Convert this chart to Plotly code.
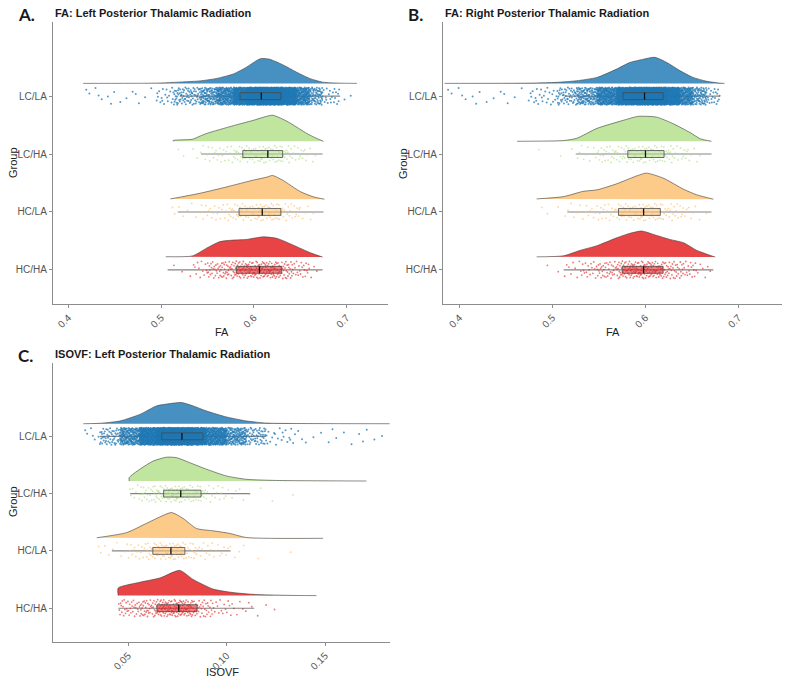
import numpy as np
import plotly.graph_objects as go

# ---------------- data ----------------
groups = ["LC/LA", "LC/HA", "HC/LA", "HC/HA"]
group_pos = [4, 3, 2, 1]
colors = ["#1F78B4", "#B2DF8A", "#FDBF6F", "#E31A1C"]
n_points = [2600, 130, 130, 250]          # approx. number of subjects per group

# Panel A: FA, left posterior thalamic radiation
A_dens_x = [
    [0.416, 0.495, 0.513, 0.542, 0.560, 0.578, 0.592, 0.603, 0.608, 0.617, 0.631, 0.646, 0.660, 0.674, 0.692, 0.711],
    [0.513, 0.513, 0.534, 0.542, 0.549, 0.578, 0.599, 0.620, 0.631, 0.639, 0.657, 0.667, 0.675],
    [0.510, 0.542, 0.571, 0.599, 0.614, 0.620, 0.631, 0.650, 0.664, 0.676],
    [0.505, 0.534, 0.549, 0.563, 0.578, 0.592, 0.610, 0.625, 0.642, 0.660, 0.674],
]
A_dens_h = [
    [0, 0.01, 0.04, 0.10, 0.20, 0.38, 0.65, 0.92, 1.0, 0.97, 0.75, 0.45, 0.20, 0.05, 0.01, 0],
    [0, 0.03, 0.08, 0.20, 0.30, 0.60, 0.80, 1.0, 0.85, 0.70, 0.30, 0.12, 0],
    [0.01, 0.25, 0.52, 0.80, 0.93, 1.0, 0.80, 0.32, 0.10, 0],
    [0.02, 0.06, 0.44, 0.76, 0.84, 0.87, 1.0, 0.92, 0.60, 0.23, 0],
]
A_peak = [0.43, 0.45, 0.41, 0.35]
A_box = [  # lower whisker, Q1, median, Q3, upper whisker
    [0.520, 0.585, 0.608, 0.629, 0.693],
    [0.543, 0.588, 0.615, 0.631, 0.674],
    [0.518, 0.584, 0.609, 0.629, 0.675],
    [0.507, 0.581, 0.606, 0.630, 0.674],
]
A_ticks = [0.4, 0.5, 0.6, 0.7]
A_ticktext = ["0.4", "0.5", "0.6", "0.7"]

# Panel B: FA, right posterior thalamic radiation
B_dens_x = [
    [0.384, 0.476, 0.505, 0.526, 0.548, 0.569, 0.583, 0.597, 0.610, 0.623, 0.637, 0.651, 0.666, 0.680, 0.685],
    [0.462, 0.512, 0.526, 0.548, 0.576, 0.592, 0.612, 0.630, 0.648, 0.659, 0.671],
    [0.483, 0.512, 0.533, 0.548, 0.569, 0.591, 0.601, 0.619, 0.641, 0.655, 0.673],
    [0.483, 0.512, 0.530, 0.548, 0.569, 0.583, 0.596, 0.612, 0.626, 0.641, 0.655, 0.675],
]
B_dens_h = [
    [0, 0.01, 0.04, 0.10, 0.23, 0.55, 0.80, 0.92, 1.0, 0.80, 0.49, 0.23, 0.08, 0.01, 0],
    [0, 0.03, 0.12, 0.52, 0.84, 1.0, 0.97, 0.70, 0.35, 0.10, 0],
    [0.01, 0.10, 0.30, 0.36, 0.59, 0.90, 1.0, 0.81, 0.38, 0.17, 0],
    [0.01, 0.05, 0.26, 0.44, 0.74, 0.91, 1.0, 0.83, 0.68, 0.55, 0.26, 0],
]
B_peak = [0.45, 0.43, 0.45, 0.45]
B_box = [
    [0.513, 0.576, 0.599, 0.619, 0.680],
    [0.525, 0.581, 0.600, 0.620, 0.671],
    [0.516, 0.571, 0.598, 0.616, 0.671],
    [0.512, 0.575, 0.598, 0.619, 0.673],
]
B_ticks = [0.4, 0.5, 0.6, 0.7]
B_ticktext = ["0.4", "0.5", "0.6", "0.7"]

# Panel C: ISOVF, left posterior thalamic radiation
C_dens_x = [
    [0.0272, 0.0356, 0.0458, 0.0559, 0.0644, 0.0712, 0.0771, 0.0830, 0.0898, 0.0999, 0.1101, 0.1203, 0.1355, 0.1828],
    [0.0505, 0.0505, 0.0559, 0.0627, 0.0695, 0.0746, 0.0813, 0.0898, 0.0999, 0.1101, 0.1270, 0.1422, 0.1710],
    [0.0340, 0.0492, 0.0593, 0.0661, 0.0720, 0.0779, 0.0847, 0.0931, 0.1016, 0.1101, 0.1490],
    [0.0449, 0.0449, 0.0559, 0.0661, 0.0762, 0.0830, 0.0931, 0.1033, 0.1135, 0.1304, 0.1456],
]
C_dens_h = [
    [0, 0.02, 0.13, 0.44, 0.84, 0.95, 1.0, 0.84, 0.60, 0.32, 0.13, 0.03, 0.01, 0],
    [0, 0.14, 0.49, 0.83, 0.99, 0.97, 0.76, 0.49, 0.21, 0.07, 0.02, 0.01, 0],
    [0.02, 0.22, 0.58, 0.83, 1.0, 0.77, 0.38, 0.29, 0.19, 0.03, 0],
    [0, 0.30, 0.53, 0.70, 1.0, 0.64, 0.26, 0.12, 0.05, 0.01, 0],
]
C_peak = [0.37, 0.42, 0.45, 0.44]
C_box = [
    [0.0356, 0.0670, 0.0773, 0.0880, 0.1200],
    [0.0510, 0.0680, 0.0767, 0.0870, 0.1120],
    [0.0417, 0.0625, 0.0717, 0.0788, 0.1020],
    [0.0450, 0.0646, 0.0757, 0.0850, 0.1140],
]
C_ticks = [0.05, 0.10, 0.15]
C_ticktext = ["0.05", "0.10", "0.15"]

panel_titles = ["FA: Left Posterior Thalamic Radiation",
                "FA: Right Posterior Thalamic Radiation",
                "ISOVF: Left Posterior Thalamic Radiation"]
panel_letters = ["A.", "B.", "C."]
x_titles = ["FA", "FA", "ISOVF"]

# ---------------- helpers ----------------
W, H = 789, 681


def rgba(hexc, a):
    hexc = hexc.lstrip("#")
    r, g, b = int(hexc[0:2], 16), int(hexc[2:4], 16), int(hexc[4:6], 16)
    return f"rgba({r},{g},{b},{a})"


def halton(n, base):
    out = np.zeros(n)
    for i in range(n):
        f, r, k = 1.0, 0.0, i + 1
        while k > 0:
            f /= base
            r += f * (k % base)
            k //= base
        out[i] = r
    return out


def rain_x(xs, hs, n):
    xs = np.asarray(xs, float)
    hs = np.asarray(hs, float)
    seg = (hs[1:] + hs[:-1]) / 2 * np.diff(xs)
    cdf = np.concatenate([[0.0], np.cumsum(seg)])
    cdf /= cdf[-1]
    q = halton(n, 2)
    return np.interp(q, cdf, xs)


fig = go.Figure()

panels = [
    (A_dens_x, A_dens_h, A_peak, A_box, "x", "y"),
    (B_dens_x, B_dens_h, B_peak, B_box, "x2", "y2"),
    (C_dens_x, C_dens_h, C_peak, C_box, "x3", "y3"),
]

BASE_OFF = 0.22
JIT = 0.15
BOX_HALF = 0.06
point_alpha = [0.75, 0.65, 0.65, 0.6]
point_size = [2.0, 1.8, 1.8, 1.8]

for dens_x, dens_h, peak, box, xa, ya in panels:
    for gi, g in enumerate(group_pos):
        col = colors[gi]
        base = g + BASE_OFF
        # half violin (density)
        yy = [base + h * peak[gi] for h in dens_h[gi]]
        fig.add_trace(go.Scatter(
            x=dens_x[gi], y=yy, mode="lines", fill="toself",
            fillcolor=rgba(col, 0.82),
            line=dict(color="#3c3c3c", width=0.6, shape="spline", smoothing=0.6),
            xaxis=xa, yaxis=ya, hoverinfo="skip"))
        lo, q1, med, q3, hi = box[gi]
        # whiskers
        fig.add_trace(go.Scatter(
            x=[lo, hi], y=[g, g], mode="lines",
            line=dict(color="#858585", width=1.1),
            xaxis=xa, yaxis=ya, hoverinfo="skip"))
        # rain points
        n = n_points[gi]
        px = rain_x(dens_x[gi], dens_h[gi], n)
        py = g + (halton(n, 3) - 0.5) * 2 * JIT
        fig.add_trace(go.Scatter(
            x=px, y=py, mode="markers",
            marker=dict(color=rgba(col, point_alpha[gi]), size=point_size[gi], line=dict(width=0)),
            xaxis=xa, yaxis=ya, hoverinfo="skip"))
        # box
        fig.add_trace(go.Scatter(
            x=[q1, q3, q3, q1, q1],
            y=[g - BOX_HALF, g - BOX_HALF, g + BOX_HALF, g + BOX_HALF, g - BOX_HALF],
            mode="lines", fill="toself", fillcolor=rgba(col, 0.55),
            line=dict(color="#4a4a4a", width=0.8),
            xaxis=xa, yaxis=ya, hoverinfo="skip"))
        # median
        fig.add_trace(go.Scatter(
            x=[med, med], y=[g - BOX_HALF, g + BOX_HALF], mode="lines",
            line=dict(color="#111111", width=1.3),
            xaxis=xa, yaxis=ya, hoverinfo="skip"))


def px2x(p):
    return p / W


def px2y(p):
    return 1 - p / H


axis_col = "#8c8c8c"
tickfont = dict(family="Liberation Sans, Arial, sans-serif", size=10, color="#555555")


def xaxis_cfg(dom, rng, tv, tt, anchor):
    return dict(domain=dom, range=rng, tickvals=tv, ticktext=tt, tickangle=-45,
                ticks="outside", ticklen=3, tickcolor=axis_col, tickwidth=1,
                showline=True, linecolor=axis_col, linewidth=1.3,
                showgrid=False, zeroline=False, tickfont=tickfont, anchor=anchor)


def yaxis_cfg(dom, anchor):
    return dict(domain=dom, range=[0.41, 5.28], tickvals=group_pos, ticktext=groups,
                ticks="outside", ticklen=3, tickcolor=axis_col, tickwidth=1,
                showline=True, linecolor=axis_col, linewidth=1.3,
                showgrid=False, zeroline=False, tickfont=tickfont, anchor=anchor)


ydomAB = [px2y(304), px2y(22)]
ydomC = [px2y(642), px2y(363)]

fig.update_layout(
    width=W, height=H, margin=dict(l=0, r=0, t=0, b=0),
    paper_bgcolor="white", plot_bgcolor="white", showlegend=False,
    xaxis=xaxis_cfg([px2x(53), px2x(388)], [0.3835, 0.7445], A_ticks, A_ticktext, "y"),
    yaxis=yaxis_cfg(ydomAB, "x"),
    xaxis2=xaxis_cfg([px2x(443), px2x(782)], [0.3823, 0.7468], B_ticks, B_ticktext, "y2"),
    yaxis2=yaxis_cfg(ydomAB, "x2"),
    xaxis3=xaxis_cfg([px2x(53), px2x(390)], [0.0118, 0.183], C_ticks, C_ticktext, "y3"),
    yaxis3=yaxis_cfg(ydomC, "x3"),
)

ann = []
title_font = dict(family="Liberation Sans, Arial, sans-serif", size=11, color="#1a1a1a")
letter_font = dict(family="Lato, Liberation Sans, sans-serif", size=17, color="#1a1a1a")
lab_font = dict(family="Liberation Sans, Arial, sans-serif", size=11, color="#222222")

letter_pos = [(16, 15), (406, 15), (16, 355)]
title_pos = [(53, 13), (443, 13), (53, 354)]
ytitle_pos = [(13, 163), (403, 163), (13, 502)]
xtitle_pos = [(222, 332), (613, 332), (222, 672)]

for i in range(3):
    ann.append(dict(text="<b>" + panel_letters[i] + "</b>", x=px2x(letter_pos[i][0]),
                    y=px2y(letter_pos[i][1]), xref="paper", yref="paper",
                    xanchor="left", yanchor="middle", showarrow=False, font=letter_font))
    ann.append(dict(text="<b>" + panel_titles[i] + "</b>", x=px2x(title_pos[i][0]),
                    y=px2y(title_pos[i][1]), xref="paper", yref="paper",
                    xanchor="left", yanchor="middle", showarrow=False, font=title_font))
    ann.append(dict(text="Group", x=px2x(ytitle_pos[i][0]), y=px2y(ytitle_pos[i][1]),
                    xref="paper", yref="paper", xanchor="center", yanchor="middle",
                    textangle=-90, showarrow=False, font=lab_font))
    ann.append(dict(text=x_titles[i], x=px2x(xtitle_pos[i][0]), y=px2y(xtitle_pos[i][1]),
                    xref="paper", yref="paper", xanchor="center", yanchor="middle",
                    showarrow=False, font=lab_font))

fig.update_layout(annotations=ann)
fig.write_html("out.html", config={"displayModeBar": False},
               post_script="document.body.style.margin='0px';document.body.style.padding='0px';")
